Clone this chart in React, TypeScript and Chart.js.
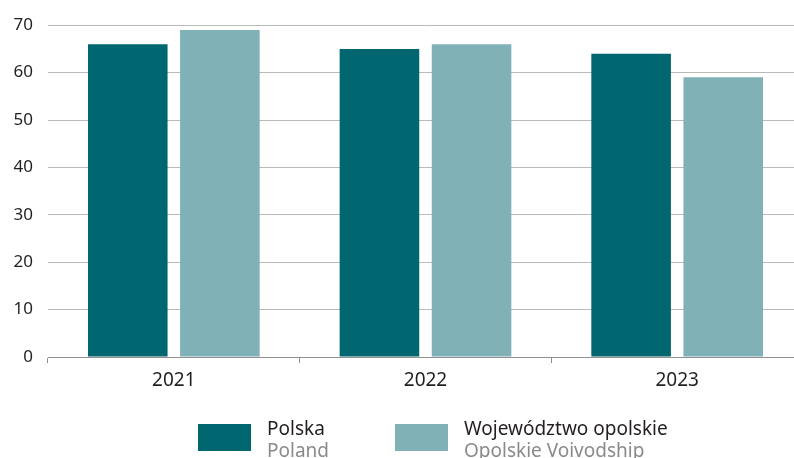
import React, { useEffect, useRef } from "react";
import { Chart, registerables } from "chart.js";

Chart.register(...registerables);

// Years on the category axis
const years = ["2021", "2022", "2023"];

// Values per series
const polskaValues = [66, 65, 64];
const opolskieValues = [69, 66, 59];

// Two-line legend labels (Polish / English)
const polskaLabel = ["Polska", "Poland"];
const opolskieLabel = ["Województwo opolskie", "Opolskie Voivodship"];

// Value axis range
const yMin = 0;
const yMax = 70;
const yStep = 10;

const DARK = "#00666f";
const LIGHT = "#80b1b7";
const FONT = '"Noto Sans", "Open Sans", sans-serif';

const twoLineLegend = {
  id: "twoLineLegend",
  afterDraw(chart: any) {
    const ctx = chart.ctx as CanvasRenderingContext2D;
    const area = chart.chartArea;
    const items = chart.data.datasets.map((ds: any) => ({
      color: ds.backgroundColor as string,
      lines: ds.legendLines as string[],
    }));
    const boxW = 53;
    const boxH = 27;
    const textGap = 16;
    const itemGap = 66;
    const top = area.bottom + 67;
    ctx.save();
    ctx.font = `19px ${FONT}`;
    ctx.textBaseline = "alphabetic";
    ctx.textAlign = "left";
    let x = area.left + 150;
    for (const item of items) {
      ctx.fillStyle = item.color;
      ctx.fillRect(x, top, boxW, boxH);
      const tx = x + boxW + textGap;
      ctx.fillStyle = "#231f20";
      ctx.fillText(item.lines[0], tx, top + 11);
      ctx.fillStyle = "#8a8a8a";
      ctx.fillText(item.lines[1], tx, top + 33);
      const w = Math.max(...item.lines.map((t) => ctx.measureText(t).width));
      x = tx + w + itemGap;
    }
    ctx.restore();
  },
};

export default function App() {
  const canvasRef = useRef<HTMLCanvasElement | null>(null);

  useEffect(() => {
    if (!canvasRef.current) return;
    const chart = new Chart(canvasRef.current, {
      type: "bar",
      data: {
        labels: years,
        datasets: [
          {
            label: polskaLabel.join(" / "),
            legendLines: polskaLabel,
            data: polskaValues,
            backgroundColor: DARK,
            categoryPercentage: 0.732,
            barPercentage: 0.864,
          } as any,
          {
            label: opolskieLabel.join(" / "),
            legendLines: opolskieLabel,
            data: opolskieValues,
            backgroundColor: LIGHT,
            categoryPercentage: 0.732,
            barPercentage: 0.864,
          } as any,
        ],
      },
      options: {
        responsive: false,
        animation: false,
        devicePixelRatio: 1,
        layout: { padding: { top: 23, right: 1, bottom: 61, left: 0 } },
        plugins: {
          legend: { display: false },
          tooltip: { enabled: false },
        },
        scales: {
          x: {
            grid: {
              offset: true,
              drawOnChartArea: false,
              drawTicks: true,
              tickLength: 6,
              color: "#8f8f8f",
            },
            border: { display: true, color: "#8f8f8f", width: 1 },
            ticks: {
              color: "#231f20",
              font: { family: FONT, size: 19 },
              padding: 6,
            },
            afterFit(scale: any) {
              scale.height = 40;
            },
          },
          y: {
            min: yMin,
            max: yMax,
            ticks: {
              stepSize: yStep,
              color: "#231f20",
              font: { family: FONT, size: 17 },
              padding: 15,
            },
            grid: { color: "#b9b9b9", drawTicks: false, lineWidth: 1 },
            border: { display: false },
            afterFit(scale: any) {
              scale.width = 48;
            },
          },
        },
      },
      plugins: [twoLineLegend],
    });
    return () => chart.destroy();
  }, []);

  return (
    <div
      style={{
        position: "fixed",
        left: 0,
        top: 0,
        width: 794,
        height: 458,
        overflow: "hidden",
        background: "#ffffff",
      }}
    >
      <canvas ref={canvasRef} width={804} height={458} style={{ display: "block" }} />
    </div>
  );
}
